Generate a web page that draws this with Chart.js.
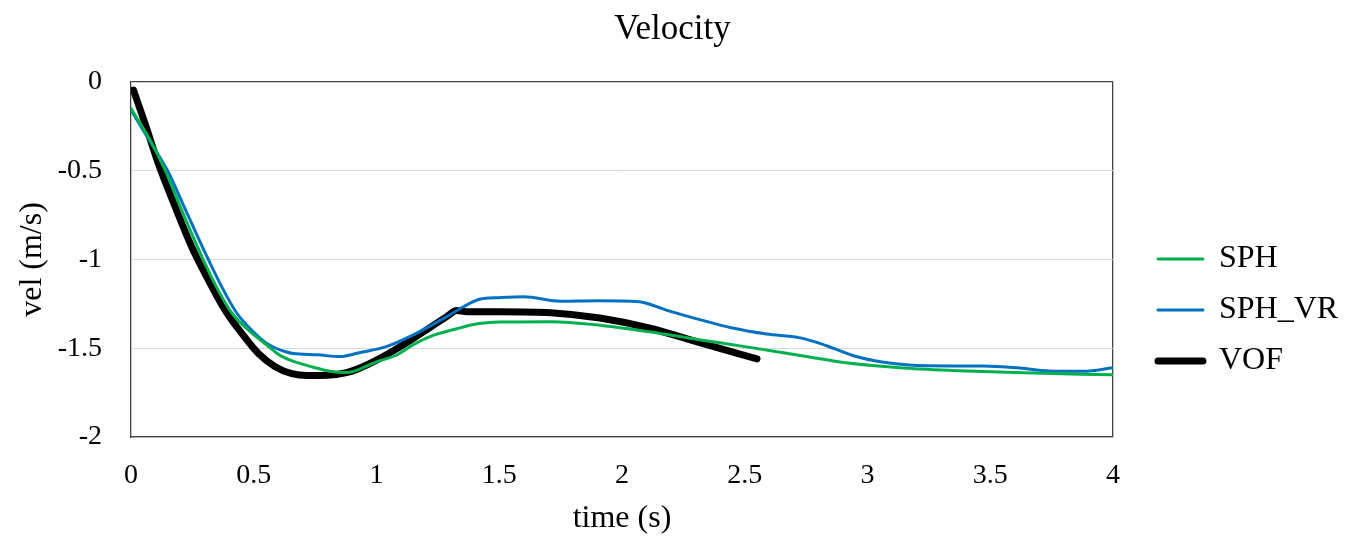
<!DOCTYPE html>
<html>
<head>
<meta charset="utf-8">
<script src="https://cdn.jsdelivr.net/npm/chart.js@4/dist/chart.umd.min.js"></script>
<style>
  html, body { margin: 0; padding: 0; background: #ffffff; }
  #wrap { width: 1345px; height: 540px; }
</style>
</head>
<body>
<div id="wrap"><canvas id="c" width="1345" height="540"></canvas></div>
<script>
// ---- data ----
const timeSPH = [0, 0.075, 0.14, 0.215, 0.294, 0.35, 0.41, 0.48, 0.56, 0.607, 0.675, 0.743, 0.81, 0.878, 0.919, 0.96, 1.014, 1.083, 1.15, 1.218, 1.327, 1.395, 1.45, 1.5, 1.71, 1.91, 2.11, 2.32, 2.52, 2.72, 2.93, 3.13, 3.34, 3.6, 4.0];
const velSPH  = [-0.15, -0.32, -0.50, -0.75, -1.0, -1.16, -1.30, -1.40, -1.49, -1.54, -1.58, -1.607, -1.63, -1.637, -1.625, -1.60, -1.57, -1.538, -1.48, -1.434, -1.39, -1.366, -1.356, -1.352, -1.35, -1.37, -1.407, -1.453, -1.495, -1.54, -1.585, -1.61, -1.625, -1.637, -1.65];

const timeSPHVR = [0, 0.075, 0.149, 0.23, 0.315, 0.37, 0.43, 0.5, 0.55, 0.59, 0.63, 0.66, 0.76, 0.85, 0.93, 1.04, 1.15, 1.286, 1.354, 1.42, 1.5, 1.6, 1.75, 1.9, 2.07, 2.18, 2.32, 2.45, 2.59, 2.72, 2.8, 2.87, 2.95, 3.06, 3.17, 3.34, 3.47, 3.61, 3.74, 3.88, 4.0];
const velSPHVR  = [-0.158, -0.33, -0.50, -0.745, -1.0, -1.155, -1.30, -1.41, -1.47, -1.50, -1.52, -1.53, -1.537, -1.547, -1.525, -1.491, -1.425, -1.322, -1.266, -1.224, -1.215, -1.21, -1.235, -1.232, -1.238, -1.285, -1.34, -1.386, -1.42, -1.44, -1.47, -1.505, -1.545, -1.578, -1.595, -1.60, -1.60, -1.61, -1.628, -1.63, -1.61];

const timeVOF = [0.01, 0.057, 0.111, 0.179, 0.247, 0.315, 0.383, 0.451, 0.519, 0.587, 0.655, 0.72, 0.8, 0.878, 0.919, 1.014, 1.15, 1.286, 1.327, 1.367, 1.5, 1.71, 1.91, 2.11, 2.32, 2.55];
const velVOF  = [-0.045, -0.233, -0.458, -0.70, -0.928, -1.115, -1.285, -1.416, -1.53, -1.604, -1.643, -1.653, -1.652, -1.637, -1.619, -1.557, -1.445, -1.322, -1.288, -1.294, -1.294, -1.30, -1.33, -1.386, -1.47, -1.56];

const seriesNames = ['SPH', 'SPH_VR', 'VOF'];
const xTickRange = { min: 0, max: 4, step: 0.5 };
const yTickRange = { min: -2, max: 0, step: 0.5 };
const chartTitle = 'Velocity';
const xTitle = 'time (s)';
const yTitle = 'vel (m/s)';

// ---- build ----
const toPts = (t, v) => t.map((x, i) => ({ x: x, y: v[i] }));
const fmt = v => String(Math.round(v * 100) / 100);
const SERIF = "'Liberation Serif', 'Times New Roman', serif";
const FRAME = '#404040';

const chart = new Chart(document.getElementById('c'), {
  type: 'line',
  data: {
    datasets: [
      { label: seriesNames[0], data: toPts(timeSPH, velSPH), borderColor: '#00b050', backgroundColor: '#00b050', borderWidth: 3 },
      { label: seriesNames[1], data: toPts(timeSPHVR, velSPHVR), borderColor: '#0070c0', backgroundColor: '#0070c0', borderWidth: 3 },
      { label: seriesNames[2], data: toPts(timeVOF, velVOF), borderColor: '#000000', backgroundColor: '#000000', borderWidth: 7 }
    ]
  },
  options: {
    responsive: false,
    animation: false,
    parsing: false,
    elements: {
      point: { radius: 0, hoverRadius: 0 },
      line: { cubicInterpolationMode: 'monotone', fill: false, borderCapStyle: 'round', borderJoinStyle: 'round' }
    },
    layout: { padding: 0 },
    plugins: {
      title: {
        display: true,
        text: chartTitle,
        color: '#000',
        font: { family: SERIF, size: 35, weight: 'normal' },
        padding: { top: 9, bottom: 31 }
      },
      legend: {
        display: true,
        position: 'right',
        align: 'start',
        fullSize: false,
        maxWidth: 206,
        title: { display: true, text: '', padding: { top: 0, bottom: 127.6 }, font: { size: 12 } },
        labels: {
          boxWidth: 45,
          boxHeight: 0,
          padding: 19,
          color: '#000',
          font: { family: SERIF, size: 32 }
        }
      },
      tooltip: { enabled: false }
    },
    scales: {
      x: {
        type: 'linear',
        position: 'bottom',
        min: xTickRange.min,
        max: xTickRange.max,
        ticks: { stepSize: xTickRange.step, color: '#000', font: { family: SERIF, size: 28 }, padding: 22, maxRotation: 0, callback: fmt },
        grid: { drawTicks: false, color: c => (c.tick && c.tick.value === xTickRange.max) ? FRAME : 'rgba(0,0,0,0)', lineWidth: 1.3 },
        border: { display: true, color: FRAME, width: 1.3 },
        title: { display: true, text: xTitle, color: '#000', font: { family: SERIF, size: 32 }, padding: { top: 0, bottom: 2 } },
        afterFit: s => { s.height = 103; }
      },
      y: {
        type: 'linear',
        position: 'left',
        min: yTickRange.min,
        max: yTickRange.max,
        ticks: { stepSize: yTickRange.step, color: '#000', font: { family: SERIF, size: 28 }, padding: 29, callback: fmt },
        grid: { drawTicks: false, color: c => (c.tick && c.tick.value === yTickRange.max) ? FRAME : '#d9d9d9', lineWidth: c => (c.tick && c.tick.value === yTickRange.max) ? 1.3 : 1 },
        border: { display: true, color: FRAME, width: 1.3 },
        title: { display: true, text: yTitle, color: '#000', font: { family: SERIF, size: 32 }, padding: { top: 13, bottom: 0 } },
        afterFit: s => { s.width = 131; }
      },
      yGap: {
        type: 'linear',
        position: 'right',
        display: true,
        grid: { display: false, drawTicks: false },
        border: { display: false },
        ticks: { display: false },
        afterFit: s => { s.width = 26; }
      }
    }
  }
});
</script>
</body>
</html>
